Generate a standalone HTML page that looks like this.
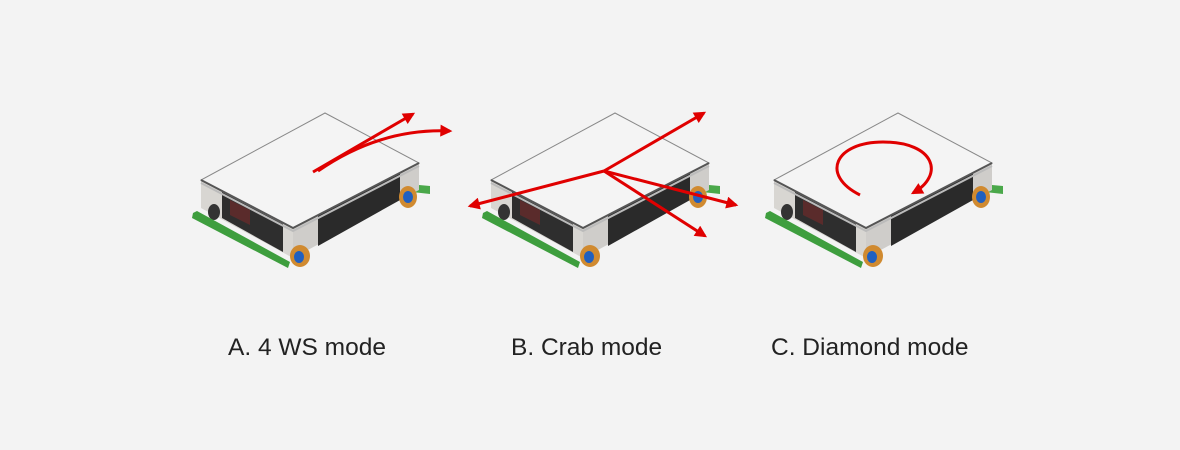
<!DOCTYPE html>
<html><head><style>
body{margin:0;background:#f3f3f3;}
svg{display:block}
text{font-family:"Liberation Sans",sans-serif;font-size:24.5px;fill:#222}
</style></head><body>
<svg width="1180" height="450" viewBox="0 0 1180 450">
<defs>
<marker id="a2" viewBox="0 0 10 10" refX="8" refY="5" markerWidth="14" markerHeight="12" orient="auto" markerUnits="userSpaceOnUse"><path d="M0,0 L10,5 L0,10 z" fill="#e00000"/></marker>
<g id="robot">
<path d="M408,184 L430,186 L430,194 L412,192 z" fill="#4aa84a"/>
<path d="M201,180 L293,228 L293,258 L201,208 z" fill="#d8d6d2"/>
<path d="M293,228 L419,163 L419,190 L293,258 z" fill="#cfcdca"/>
<path d="M222,192 L283,224 L283,252 L222,218 z" fill="#2e2e2e"/>
<path d="M318,215 L400,173 L400,200 L318,246 z" fill="#2a2a2a"/>
<path d="M230,200 L250,210 L250,225 L230,215 z" fill="#5a2b2b"/>
<ellipse cx="408" cy="197" rx="9" ry="11" fill="#d08a30"/><ellipse cx="408" cy="197" rx="5" ry="6" fill="#2060c0"/>
<ellipse cx="300" cy="256" rx="10" ry="11" fill="#d08a30"/><ellipse cx="299" cy="257" rx="5" ry="6" fill="#2060c0"/>
<ellipse cx="214" cy="212" rx="6" ry="8" fill="#333"/>
<path d="M193,213 L197,211 L290,262 L288,268 L192,218 z" fill="#3e9e3e"/>
<path d="M325,113 L419,163 L293,228 L201,180 z" fill="#f4f4f4" stroke="#888" stroke-width="1"/>
<path d="M201,180 L293,228 L419,163" fill="none" stroke="#555" stroke-width="2"/>
<path d="M201,183 L293,231 L419,166" fill="none" stroke="#bbb" stroke-width="2"/>
</g>
</defs>
<use href="#robot"/>
<use href="#robot" x="290"/>
<use href="#robot" x="573"/>
<g stroke="#e00000" stroke-width="3" fill="none">
<line x1="313" y1="172" x2="413" y2="114" marker-end="url(#a2)"/>
<path d="M318,171 Q380,128 450,131" marker-end="url(#a2)"/>
<line x1="604" y1="171" x2="704" y2="113" marker-end="url(#a2)"/>
<line x1="604" y1="171" x2="470" y2="206" marker-end="url(#a2)"/>
<line x1="604" y1="171" x2="736" y2="205" marker-end="url(#a2)"/>
<line x1="604" y1="171" x2="705" y2="236" marker-end="url(#a2)"/>
<path d="M860,195 C820,175 835,142 883,142 C935,142 945,175 913,193" marker-end="url(#a2)"/>
</g>
<text x="228" y="355">A. 4 WS mode</text>
<text x="511" y="355">B. Crab mode</text>
<text x="771" y="355">C. Diamond mode</text>
</svg>
</body></html>
